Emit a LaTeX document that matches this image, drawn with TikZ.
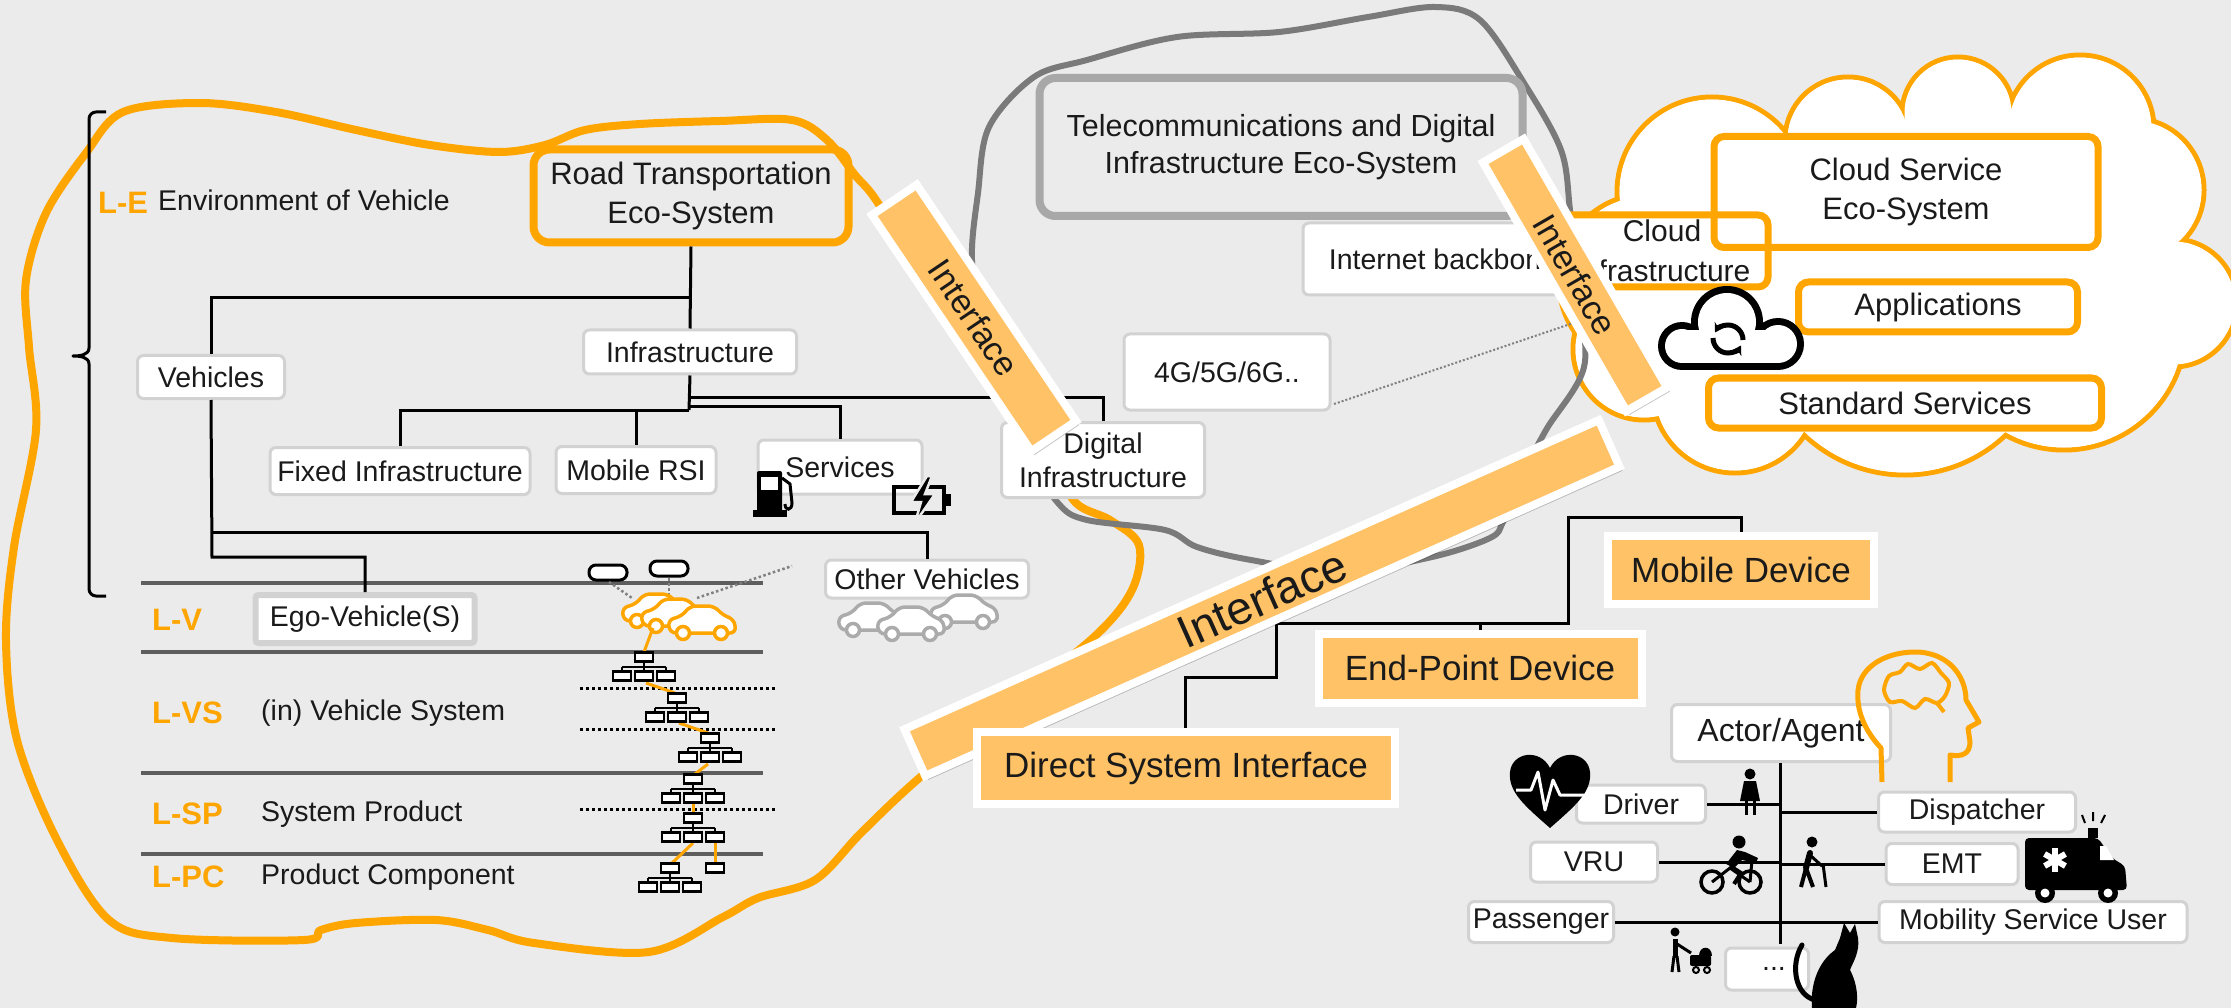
\documentclass[tikz,border=0pt]{standalone}
\usepackage{fontspec}
\setmainfont{Liberation Sans}
\usetikzlibrary{shadows,calc,arrows.meta}

\definecolor{bg}{HTML}{EBEBEB}
\definecolor{ora}{HTML}{FFA500}
\definecolor{barfill}{HTML}{FFC266}
\definecolor{boxgray}{HTML}{D2D2D2}
\definecolor{blobgray}{HTML}{7A7A7A}
\definecolor{telegray}{HTML}{A8A8A8}
\definecolor{layergray}{HTML}{5E5E5E}
\definecolor{txt}{HTML}{1A1A1A}
\definecolor{cargray}{HTML}{ABABAB}

\newcommand\fsz[2]{\fontsize{#1pt}{#2pt}\selectfont}

% simple car outline, origin at the bottom left of the body
\newcommand\drawcar[3]{%
  \begin{scope}[shift={(#1,#2)}]
    \filldraw[draw=#3, fill=white, line width=3.5, rounded corners=6]
      (2,0) -- (0,-13) -- (14,-17) -- (22,-27) -- (46,-27) -- (56,-17) -- (66,-14) -- (68,0) -- cycle;
    \filldraw[draw=#3, fill=white, line width=3.5] (15,0) circle (6.5) (53,0) circle (6.5);
  \end{scope}}

\tikzset{
  lbl/.style={draw=boxgray, line width=3, fill=white, rounded corners=6, inner sep=0pt,
    text=txt, font=\fsz{28.5}{34}, align=center},
  ecobox/.style={draw=ora, line width=8, rounded corners=16, inner sep=0pt,
    text=txt, font=\fsz{31}{39}, align=center},
  cloudbox/.style={draw=ora, line width=7, rounded corners=10, inner sep=0pt,
    text=txt, font=\fsz{31}{39}, align=center},
  devbox/.style={draw=white, line width=8, fill=barfill, inner sep=0pt, text=txt,
    font=\fsz{35}{40}, drop shadow={shadow xshift=3pt, shadow yshift=-4pt, opacity=0.22, fill=black}},
  ifbar/.style={draw=white, line width=8, fill=barfill, inner sep=0pt, text=txt,
    drop shadow={shadow xshift=3pt, shadow yshift=-4pt, opacity=0.22, fill=black}},
  conn/.style={draw=black, line width=3},
  layer/.style={draw=layergray, line width=4},
  sublayer/.style={draw=black, line width=3, dash pattern=on 3pt off 3pt},
  lvl/.style={text=ora, font=\fsz{31}{36}\bfseries, anchor=west, inner sep=0pt},
  lvltext/.style={text=txt, font=\fsz{28.5}{34}, anchor=west, inner sep=0pt},
  sensor/.style={draw=gray, line width=2.5, dash pattern=on 2.5pt off 2.5pt},
  orgtree/.pic={
    \draw[line width=2.5] (0,4.5) -- (0,10) (-22,10) -- (22,10)
      (-22,10) -- (-22,14.5) (0,10) -- (0,14.5) (22,10) -- (22,14.5);
    \filldraw[line width=2.5, fill=white] (-9,-4.5) rectangle (9,4.5)
      (-31,14.5) rectangle (-13,23.5) (-9,14.5) rectangle (9,23.5) (13,14.5) rectangle (31,23.5);
  }
}

\begin{document}
\begin{tikzpicture}[x=1pt,y=-1pt]
\useasboundingbox (0,0) rectangle (2231,1008);
\fill[bg] (0,0) rectangle (2231,1008);

% ---------- road transportation environment outline ----------
\draw[draw=ora, line width=8, line join=round] plot[smooth cycle, tension=0.55] coordinates {
 (46,213) (86,153) (123,112) (200,103) (276,112) (356,130) (430,145) (499,152) (545,145)
 (585,130) (640,124) (720,121) (792,120) (827,140) (855,175) (878,203) (930,290) (990,380)
 (1050,460) (1076,503) (1110,520) (1139,545) (1132,590) (1094,637) (1000,712) (917,780)
 (861,833) (815,880) (758,898) (723,917) (649,952) (534,943) (488,930) (436,920) (356,923)
 (321,930) (304,940) (172,938) (109,920) (57,840) (17,740) (6,640) (14,547) (36,430)
 (29,347) (26,280)};

% ---------- cloud service area ----------
\foreach \cx/\cy/\r in {1712/192/95, 1848/140/63, 1958/113/56, 2080/129/74, 2132/190/72,
  2173/303/64, 2064/328/122, 1905/328/147, 1735/390/83, 1644/349/71, 1647/282/88}
  {\draw[ora, line width=5] (\cx,\cy) circle (\r);}
\foreach \cx/\cy/\r in {1712/192/95, 1848/140/63, 1958/113/56, 2080/129/74, 2132/190/72,
  2173/303/64, 2064/328/122, 1905/328/147, 1735/390/83, 1644/349/71, 1647/282/88}
  {\fill[white] (\cx,\cy) circle ({\r-2.5});}
\fill[white] (1712,192) -- (1848,140) -- (1958,113) -- (2080,129) -- (2132,190) -- (2173,303)
  -- (2064,328) -- (1905,328) -- (1735,390) -- (1644,349) -- (1647,282) -- cycle;

% ---------- telecommunications outline ----------
\draw[draw=blobgray, line width=6, line join=round] plot[smooth cycle, tension=0.55] coordinates {
 (978,193) (989,127) (1034,77) (1087,60) (1177,37) (1279,32) (1368,17) (1435,7) (1480,20)
 (1524,83) (1561,150) (1570,210) (1578,290) (1584,367) (1546,430) (1520,480) (1503,522)
 (1490,538) (1432,557) (1340,572) (1251,560) (1197,547) (1165,530) (1087,520) (1058,503)
 (1025,450) (1001,393) (984,327) (972,260)};

% ---------- bracket and level labels ----------
\draw[line width=3, line join=round] (106,112) -- (96,112) to[out=180,in=90] (89,119) -- (89,348)
  to[out=-90,in=0] (73,356) to[out=0,in=90] (89,364) -- (89,589) to[out=-90,in=180] (96,596) -- (106,596);
\node[lvl] (le) at (98,203) {L-E};
\node[lvltext] (envtext) at (158,200) {Environment of Vehicle};

\draw[layer] (141,583) -- (763,583);
\draw[layer] (141,652) -- (763,652);
\draw[layer] (141,773) -- (763,773);
\draw[layer] (141,854) -- (763,854);
\draw[sublayer] (580,688) -- (775,688);
\draw[sublayer] (580,729) -- (775,729);
\draw[sublayer] (580,809) -- (775,809);

\node[lvl] (lv) at (152,620) {L-V};
\node[lvl] (lvs) at (152,713) {L-VS};
\node[lvl] (lsp) at (152,814) {L-SP};
\node[lvl] (lpc) at (152,877) {L-PC};
\node[lvltext] (vstext) at (261,713) {(in) Vehicle System};
\node[lvltext] (sptext) at (261,814) {System Product};
\node[lvltext] (pctext) at (261,877) {Product Component};

% ---------- road transportation tree ----------
\node[ecobox, minimum width=315, minimum height=93] (road) at (691,196) {Road Transportation\\Eco-System};
\node[lbl, minimum width=147, minimum height=43] (veh) at (211,377) {Vehicles};
\node[lbl, minimum width=213, minimum height=44] (infra) at (690,352) {Infrastructure};
\node[lbl, minimum width=260, minimum height=47] (fixed) at (400,471) {Fixed Infrastructure};
\node[lbl, minimum width=160, minimum height=47] (mrsi) at (636,470) {Mobile RSI};
\node[lbl, minimum width=164, minimum height=54] (serv) at (840,467) {Services};
\node[lbl, minimum width=203, minimum height=75, font=\fsz{28.5}{34}] (digi) at (1103,460) {Digital\\Infrastructure};
\node[lbl, minimum width=203, minimum height=38] (other) at (927,579) {Other Vehicles};
\node[lbl, draw=boxgray, line width=6, rounded corners=3, minimum width=219, minimum height=48] (ego) at (365,619) {Ego-Vehicle(S)};

\coordinate (j1) at (689,298);
\coordinate (j2) at (689,397);
\coordinate (j3) at (689,406);
\coordinate (j4) at (689,410);
\coordinate (j5) at (212,532);
\coordinate (j6) at (212,557);
\draw[conn] (road.south) -- (infra.north);
\draw[conn] (j1) -| (veh.north);
\draw[conn] (infra.south) -- (j4);
\draw[conn] (j2) -| (digi.north);
\draw[conn] (j3) -| (serv.north);
\draw[conn] (j4) -| (fixed.north);
\draw[conn] (j4 -| mrsi.north) -- (mrsi.north);
\draw[conn] (veh.south) -- (j6) -| (ego.north);
\draw[conn] (j5) -| (other.north);

% fuel pump
\fill[rounded corners=2] (757,471) rectangle (782,512);
\fill[white] (761,477) rectangle (778,490);
\fill (753,510) rectangle (787,517);
\draw[line width=3] (782,478) -- (790,484) -- (792,503) .. controls (792,511) and (785,511) .. (785,504);
% charging battery
\draw[line width=4] (894,487) rectangle (944,513);
\fill (944,494) rectangle (951,506);
\filldraw[fill=black, draw=bg, line width=2.5] (927,476) -- (911,502) -- (921,502) -- (915,523) -- (935,494) -- (925,494) -- (932,476) -- cycle;

% ego vehicles and sensors
\filldraw[draw=black, fill=white, line width=3, rounded corners=7] (589,565) rectangle (627,580);
\filldraw[draw=black, fill=white, line width=3, rounded corners=7] (650,561) rectangle (688,576);
\coordinate (s1a) at (609,582); \coordinate (s1b) at (632,598);
\coordinate (s2a) at (669,578); \coordinate (s2b) at (669,596);
\coordinate (s3a) at (697,598); \coordinate (s3b) at (792,566);
\draw[sensor] (s1a) -- (s1b);
\draw[sensor] (s2a) -- (s2b);
\draw[sensor] (s3a) -- (s3b);
\drawcar{622}{621}{ora}
\drawcar{641}{626}{ora}
\drawcar{668}{633}{ora}
% other vehicles
\drawcar{930}{622}{cargray}
\drawcar{838}{630}{cargray}
\drawcar{877}{634}{cargray}

% system decomposition trees
\draw[ora, line width=3] (653,628) -- (644,652);
\draw[ora, line width=3] (646,683) -- (675,693);
\draw[ora, line width=3] (679,723) -- (708,733);
\draw[ora, line width=3] (708,764) -- (695,774);
\draw[ora, line width=3] (693,804) -- (693,813);
\draw[ora, line width=3] (693,843) -- (672,863);
\draw[ora, line width=3] (715,843) -- (715,863);
\pic at (644,657) {orgtree};
\pic at (677,698) {orgtree};
\pic at (710,738) {orgtree};
\pic at (693,779) {orgtree};
\pic at (693,818) {orgtree};
\pic at (670,868) {orgtree};
\filldraw[line width=2.5, fill=white] (706,863.5) rectangle (724,872.5);

% ---------- telecommunications ----------
\node[draw=telegray, line width=8, rounded corners=16, minimum width=483, minimum height=138,
  text=txt, font=\fsz{30.5}{37}, align=center, inner sep=0pt] (tele) at (1281,147)
  {Telecommunications and Digital\\Infrastructure Eco-System};
\node[lbl, minimum width=206, minimum height=76] (g4) at (1227,372) {4G/5G/6G..};
\node[lbl, minimum width=280, minimum height=72] (backbone) at (1443,259) {Internet backbone};
\coordinate (d1) at (1334,404);
\coordinate (d2) at (1600,314);
\draw[draw=gray, line width=2, dash pattern=on 2pt off 2pt] (d1) -- (d2);

% ---------- cloud services ----------
\node[cloudbox, fill=white, minimum width=212, minimum height=72, font=\fsz{30}{40}] (cinfra) at (1662,251) {Cloud\\Infrastructure};
\node[cloudbox, minimum width=384, minimum height=111] (cse) at (1906,192) {Cloud Service\\Eco-System};
\node[cloudbox, minimum width=279, minimum height=50] (apps) at (1938,307) {Applications};
\node[cloudbox, minimum width=393, minimum height=50] (stds) at (1905,403) {Standard Services};

% cloud sync icon
\fill (1682,346) circle (24) (1778,344) circle (26) (1727,322) circle (36);
\fill (1682,330) rectangle (1778,370);
\fill[white] (1682,346) circle (17) (1778,344) circle (19) (1727,322) circle (29);
\fill[white] (1682,330) rectangle (1778,363);
\draw[line width=5, -{Stealth[length=9pt,width=11pt]}] (1743,340) arc[start angle=0, end angle=-150, radius=15];
\draw[line width=5, -{Stealth[length=9pt,width=11pt]}] (1713,338) arc[start angle=180, end angle=30, radius=15];

% ---------- devices ----------
\coordinate (hub) at (1276,623);
\draw[conn] (hub) -- ++(0,54) -| (1185,732);
\draw[conn] (hub) -- ++(292,0) |- (1741,517) -- (1741,536);
\node[devbox, minimum width=266, minimum height=68] (mobile) at (1741,570) {Mobile Device};
\node[devbox, minimum width=323, minimum height=69] (endp) at (1480,668) {End-Point Device};
\draw[conn] (endp.north |- hub) -- (endp.north);

% ---------- interfaces ----------
\node[ifbar, minimum width=285, minimum height=54, rotate=-56, font=\fsz{34}{40}] (if1) at (974,318) {Interface};
\node[ifbar, minimum width=287, minimum height=47, rotate=-60, font=\fsz{34}{40}] (if2) at (1575,275) {Interface};
\node[ifbar, minimum width=760, minimum height=51, rotate=24, font=\fsz{46}{50}] (if3) at (1262,598) {Interface};
\node[devbox, minimum width=418, minimum height=72] (dsi) at (1186,768) {Direct System Interface};

% ---------- actors ----------
\node[lbl, minimum width=219, minimum height=57, font=\fsz{32}{38}] (actor) at (1781,733) {Actor/Agent};
\node[lbl, minimum width=129, minimum height=38] (driver) at (1641,804) {Driver};
\node[lbl, minimum width=197, minimum height=40] (disp) at (1977,812) {Dispatcher};
\node[lbl, minimum width=127, minimum height=40] (vru) at (1594,862) {VRU};
\node[lbl, minimum width=132, minimum height=41] (emt) at (1952,864) {EMT};
\node[lbl, minimum width=145, minimum height=41] (pass) at (1541,922) {Passenger};
\node[lbl, minimum width=308, minimum height=41] (msu) at (2033,922) {Mobility Service User};
\node[lbl, minimum width=83, minimum height=42] (dots) at (1767,969) {\hspace*{14pt}...};
\coordinate (tx) at (1780,0);
\draw[conn] (actor.south -| tx) -- ($(dots.north -| tx)+(0,-3)$);
\draw[conn] (driver.east) -- (driver.east -| tx);
\draw[conn] (disp.west) -- (disp.west -| tx);
\draw[conn] (vru.east) -- (vru.east -| tx);
\draw[conn] (emt.west) -- (emt.west -| tx);
\draw[conn] (pass.east) -- (msu.west);

% head with brain
\draw[ora, line width=5, line join=round] (1882,782) -- (1881,748) .. controls (1866,732) and (1856,712) .. (1858,690)
  .. controls (1861,665) and (1888,652) .. (1915,652) .. controls (1948,652) and (1966,676) .. (1966,700)
  -- (1979,722) -- (1968,728) -- (1970,742) .. controls (1970,754) and (1962,757) .. (1950,755) -- (1950,782);
\draw[ora, line width=4] plot[smooth cycle] coordinates {(1884,690) (1889,676) (1900,672) (1908,664) (1920,669)
  (1932,663) (1941,673) (1949,683) (1945,696) (1937,703) (1925,699) (1915,708) (1902,701) (1890,702)};
\draw[ora, line width=4] (1937,703) -- (1944,712);

% heart with pulse
\fill (1550,828) .. controls (1525,806) and (1508,792) .. (1510,772) .. controls (1512,752) and (1540,748) .. (1550,768)
  .. controls (1560,748) and (1588,752) .. (1590,772) .. controls (1592,792) and (1575,806) .. (1550,828) -- cycle;
\draw[white, line width=3, line join=round] (1516,790) -- (1531,790) -- (1538,772) -- (1545,810) -- (1553,780) -- (1560,795) -- (1584,795);

% woman
\fill (1750,774) circle (5.5);
\fill (1744,781) -- (1756,781) -- (1760,801) -- (1740,801) -- cycle;
\draw[line width=3] (1746,801) -- (1746,815) (1754,801) -- (1754,815);

% cyclist
\draw[line width=3.5] (1712,882) circle (11) (1750,882) circle (11);
\draw[line width=3] (1712,882) -- (1730,868) -- (1750,882) (1752,860) -- (1750,882);
\fill (1739,842) circle (6.5);
\fill (1726,864) -- (1737,850) -- (1745,852) -- (1758,858) -- (1756,863) -- (1742,860) -- (1734,868) -- cycle;
\draw[line width=4] (1730,866) -- (1741,873) -- (1734,884);

% elderly person with cane
\fill (1812,842) circle (5.5);
\draw[line width=6, line cap=round] (1810,853) -- (1806,868);
\draw[line width=4] (1806,868) -- (1801,887) (1806,868) -- (1813,887);
\draw[line width=3] (1811,856) -- (1822,866) (1823,864) -- (1826,887);

% ambulance
\fill[rounded corners=4] (2025,838) -- (2098,838) -- (2112,858) -- (2125,866) -- (2127,890) -- (2025,890) -- cycle;
\fill[white] (2100,846) -- (2106,846) -- (2114,860) -- (2100,860) -- cycle;
\foreach \a in {0,60,120} {\fill[white, rotate around={\a:(2055,860)}] (2052,848) rectangle (2058,872);}
\fill (2045,893) circle (10) (2108,893) circle (10);
\fill[white] (2045,893) circle (4.5) (2108,893) circle (4.5);
\fill (2088,828) rectangle (2098,838);
\draw[line width=2] (2085,823) -- (2082,815) (2093,821) -- (2093,812) (2101,823) -- (2105,815);

% person with stroller
\fill (1675,932) circle (4.5);
\draw[line width=5] (1675,939) -- (1675,956);
\draw[line width=3] (1674,956) -- (1672,972) (1677,956) -- (1679,972) (1677,944) -- (1691,953);
\fill[rounded corners=2] (1690,955) rectangle (1711,966);
\fill (1699,956) .. controls (1699,945) and (1712,945) .. (1712,956) -- cycle;
\draw[line width=2] (1696,970) circle (3) (1707,970) circle (3);

% cat
\fill (1812,1008) .. controls (1810,985) and (1818,962) .. (1835,950) -- (1840,938) -- (1844,923) -- (1850,933)
  -- (1855,924) -- (1858,938) .. controls (1860,952) and (1853,962) .. (1850,970)
  .. controls (1858,985) and (1858,1000) .. (1856,1008) -- cycle;
\draw[line width=5, line cap=round] (1815,1000) .. controls (1795,995) and (1790,965) .. (1802,945);

\end{tikzpicture}
\end{document}
